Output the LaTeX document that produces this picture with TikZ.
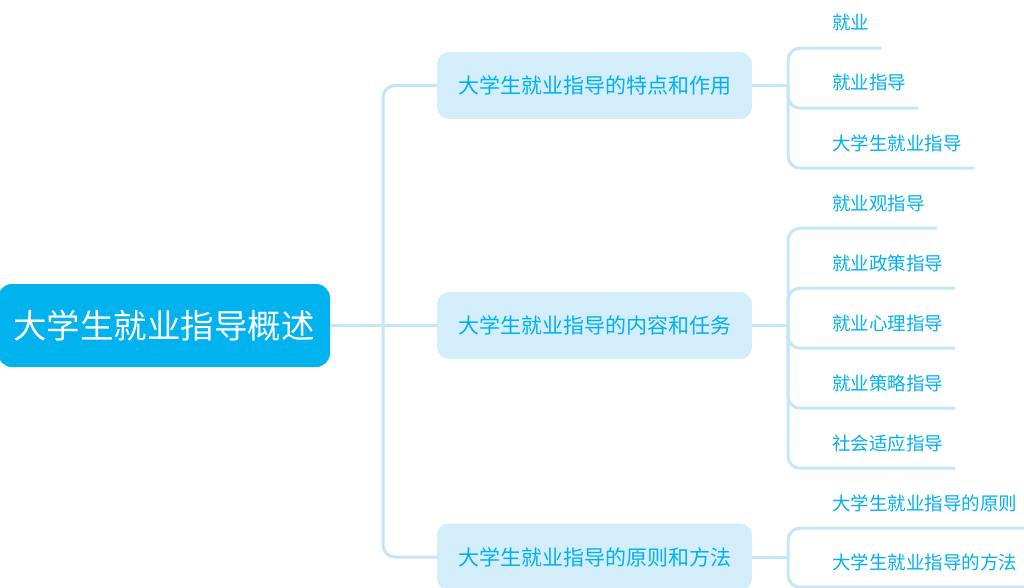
\documentclass[tikz,border=0pt]{standalone}
\usepackage{fontspec}
\newfontfamily\cjk{Noto Sans CJK SC}
\definecolor{rootc}{RGB}{0,178,238}
\definecolor{boxc}{RGB}{211,238,250}
\definecolor{textc}{RGB}{0,176,240}
\definecolor{linec}{RGB}{197,230,248}
\begin{document}
\begin{tikzpicture}[x=1pt,y=-1pt,
  rootbox/.style={fill=rootc, text=white, rounded corners=14pt, minimum width=332pt, minimum height=83pt,
    font=\cjk\fontsize{33.5}{38}\selectfont, inner sep=0pt},
  mainbox/.style={fill=boxc, text=textc, rounded corners=12pt, minimum width=315pt, minimum height=67pt,
    font=\cjk\fontsize{21}{24}\selectfont, inner sep=0pt},
  leaf/.style={anchor=west, text=textc, font=\cjk\fontsize{18.5}{21}\selectfont, inner xsep=12pt, inner ysep=0pt,
    minimum height=42pt, text height=0.8em, text depth=0.2em},
  conn/.style={draw=linec, line width=3pt, rounded corners=12pt}]
\useasboundingbox (0,0) rectangle (1024,588);

\node[rootbox] (root) at (164,325.5) {大学生就业指导概述};
\node[mainbox] (b1) at (594.5,85.5) {大学生就业指导的特点和作用};
\node[mainbox] (b2) at (594.5,325.5) {大学生就业指导的内容和任务};
\node[mainbox] (b3) at (594.5,557) {大学生就业指导的原则和方法};

\coordinate (s0) at (383,325.5);
\draw[conn] (root.east) -- (s0);
\draw[conn] (s0) |- (b1.west);
\draw[conn] (s0) -- (b2.west);
\draw[conn] (s0) |- (b3.west);

% group 1
\node[leaf] (a1) at (820,27) {就业};
\node[leaf] (a2) at (820,87) {就业指导};
\node[leaf] (a3) at (820,147) {大学生就业指导};
\coordinate (j1) at (788,85.5);
\draw[conn] (b1.east) -- (j1);
\foreach \n in {a1,a2,a3} \draw[conn] (j1) |- (\n.south east);

% group 2
\node[leaf] (c1) at (820,207) {就业观指导};
\node[leaf] (c2) at (820,267) {就业政策指导};
\node[leaf] (c3) at (820,327) {就业心理指导};
\node[leaf] (c4) at (820,387) {就业策略指导};
\node[leaf] (c5) at (820,447) {社会适应指导};
\coordinate (j2) at (788,325.5);
\draw[conn] (b2.east) -- (j2);
\foreach \n in {c1,c2,c3,c4,c5} \draw[conn] (j2) |- (\n.south east);

% group 3
\node[leaf] (d1) at (820,507) {大学生就业指导的原则};
\node[leaf] (d2) at (820,566) {大学生就业指导的方法};
\coordinate (j3) at (788,557);
\draw[conn] (b3.east) -- (j3);
\foreach \n in {d1,d2} \draw[conn] (j3) |- (\n.south east);
\end{tikzpicture}
\end{document}
